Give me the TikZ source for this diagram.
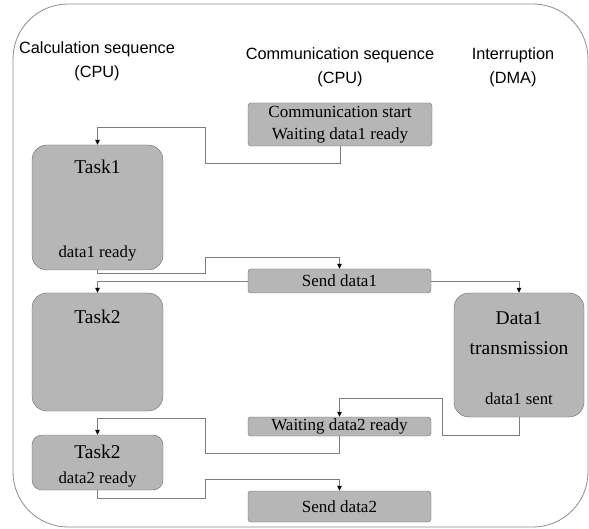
\documentclass[tikz,border=0pt]{standalone}
\usepackage{fontspec}
\setmainfont{Liberation Serif}
\setsansfont{Liberation Sans}
\usetikzlibrary{arrows.meta}

\definecolor{boxfill}{RGB}{182,182,182}
\definecolor{boxedge}{RGB}{105,105,105}
\definecolor{linkgray}{RGB}{125,125,125}
\definecolor{framegray}{RGB}{140,140,140}

\begin{document}
\begin{tikzpicture}[x=1pt,y=-1pt,
    >={Triangle[width=4.5pt,length=5pt,color=black]},
    seqbox/.style={draw=boxedge,fill=boxfill,rounded corners=3pt,inner sep=0pt,
        font=\fontsize{17}{22}\selectfont},
    taskbox/.style={draw=boxedge,fill=boxfill,rounded corners=15pt,
        minimum width=131pt,inner sep=0pt},
    link/.style={->,draw=linkgray,line width=0.8pt},
    head/.style={font=\sffamily\fontsize{16.3}{24}\selectfont,align=center},
    tasktext/.style={font=\fontsize{19.5}{30}\selectfont,align=center},
    notetext/.style={font=\fontsize{16.8}{20}\selectfont}]
    \useasboundingbox (0,0) rectangle (589,529);

    % Frame
    \draw[framegray,line width=0.8pt,rounded corners=55pt] (13,4) rectangle (588,527);

    % Column headers
    \node[head] (calchead) at (97,61) {Calculation sequence\\(CPU)};
    \node[head] (commhead) at (340,67) {Communication sequence\\(CPU)};
    \node[head] (intrhead) at (513,67) {Interruption\\(DMA)};

    % Communication sequence
    \node[seqbox,minimum width=184pt,minimum height=43pt,align=center] (start) at (340,124.5)
        {Communication start\\Waiting data1 ready};
    \node[seqbox,minimum width=183pt,minimum height=24pt] (send1) at (339.5,281) {Send data1};
    \node[seqbox,minimum width=183pt,minimum height=19pt] (wait2) at (339.5,426.5) {Waiting data2 ready};
    \node[seqbox,minimum width=183pt,minimum height=31pt] (send2) at (339.5,506.5) {Send data2};

    % Calculation sequence
    \node[taskbox,minimum height=125pt] (task1) at (97.5,207.5) {};
    \node[tasktext] (task1name) at (97.5,167) {Task1};
    \node[notetext] (task1note) at (97.5,253) {data1 ready};

    \node[taskbox,minimum height=118pt] (task2a) at (97.5,352) {};
    \node[tasktext] (task2aname) at (97.5,317) {Task2};

    \node[taskbox,minimum height=55pt,rounded corners=10pt] (task2b) at (97.5,462.5) {};
    \node[tasktext] (task2bname) at (97.5,452) {Task2};
    \node[notetext] (task2bnote) at (97.5,479) {data2 ready};

    % Interruption
    \node[taskbox,minimum width=130pt,minimum height=124pt] (trans) at (519,355) {};
    \node[tasktext] (transname) at (519,333) {Data1\\transmission};
    \node[notetext] (transnote) at (519,399) {data1 sent};

    % Connectors
    \draw[link] (start.south) |- (205,163) |- (97.5,127) -- (task1.north);
    \draw[link] (task1.south) |- (205,273) |- (339.5,257) -- (send1.north);
    \draw[link] (send1.west) -| (task2a.north);
    \draw[link] (send1.east) -| (trans.north);
    \draw[link] (trans.south) |- (442,435) |- (339.5,398) -- (wait2.north);
    \draw[link] (wait2.south) |- (205,453) |- (97.5,418) -- (task2b.north);
    \draw[link] (task2b.south) |- (205,498) |- (339.5,479) -- (send2.north);
\end{tikzpicture}
\end{document}
